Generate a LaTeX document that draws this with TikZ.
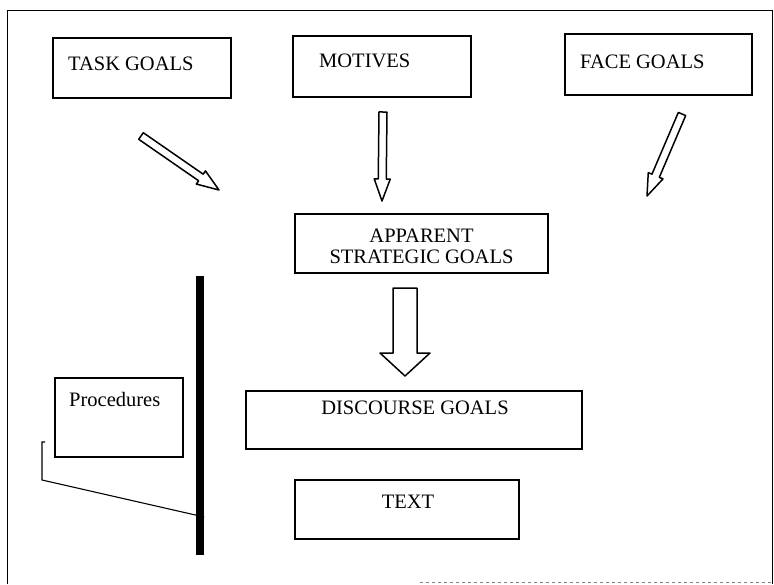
\documentclass[tikz,border=0pt]{standalone}
\usepackage{fontspec}
\setmainfont{Liberation Serif}
\usetikzlibrary{calc}
\def\goalbox{\node[draw,line width=1.2pt,inner sep=0pt]}
\def\goaltext{\node[inner sep=0pt,font=\fontsize{20.5}{23}\selectfont]}
\def\hollowarrow#1#2#3#4#5{%
  \coordinate (hb) at ($(#2)!#5!(#1)$);
  \draw[line width=1.5pt,line join=round]
    ($(#1)!#3!90:(#2)$) -- ($(hb)!#3!90:(#2)$) -- ($(hb)!#4!90:(#2)$) -- (#2)
    -- ($(hb)!#4!-90:(#2)$) -- ($(hb)!#3!-90:(#2)$) -- ($(#1)!#3!-90:(#2)$) -- cycle;}

\begin{document}
\begin{tikzpicture}[x=1pt,y=-1pt]
\useasboundingbox (0,0) rectangle (774,584);
\draw[line width=0.9pt] (7,584) -- (7,10) -- (772,10) -- (772,584);
\draw[gray,dashed,line width=0.6pt] (420,582) -- (772,582);
\goalbox[minimum width=178,minimum height=60] (task) at (142,68) {};
\goalbox[minimum width=178,minimum height=61] (motives) at (382,66.5) {};
\goalbox[minimum width=187,minimum height=61] (face) at (658.5,64.5) {};
\goalbox[minimum width=253,minimum height=59] (apparent) at (421.5,243.5) {};
\goalbox[minimum width=128,minimum height=79] (proc) at (119,417.5) {};
\goalbox[minimum width=336,minimum height=58] (discourse) at (414,420) {};
\goalbox[minimum width=224,minimum height=59] (text) at (407,509.5) {};
\goaltext[anchor=base west] (tasklbl) at (68,70) {TASK GOALS};
\goaltext[anchor=base west] (motiveslbl) at (319,67) {MOTIVES};
\goaltext[anchor=base west] (facelbl) at (580,68) {FACE GOALS};
\goaltext[anchor=base] (apparentlbl) at (421.5,242) {APPARENT};
\goaltext[anchor=base] (strategiclbl) at (421.5,263) {STRATEGIC GOALS};
\goaltext[anchor=base west] (proclbl) at (69,406) {Procedures};
\goaltext[anchor=base] (discourselbl) at (415,414) {DISCOURSE GOALS};
\goaltext[anchor=base] (textlbl) at (408,508) {TEXT};
\node[fill,minimum width=8,minimum height=279,inner sep=0pt] (bar) at (200,415.5) {};
\coordinate (taskA) at (141,136);
\coordinate (taskB) at (219,190);
\coordinate (motA) at (383,112);
\coordinate (motB) at (382,201);
\coordinate (faceA) at (682,114);
\coordinate (faceB) at (647,196);
\coordinate (bigA) at (405,288);
\coordinate (bigB) at (405,376);
\hollowarrow{taskA}{taskB}{4pt}{8pt}{22pt}
\hollowarrow{motA}{motB}{4pt}{8pt}{22pt}
\hollowarrow{faceA}{faceB}{4pt}{8pt}{22pt}
\hollowarrow{bigA}{bigB}{12pt}{25pt}{23pt}
\coordinate (brk) at (42,442);
\coordinate (barhit) at (bar.east |- 0,517);
\draw[line width=1.1pt] ($(brk)+(3,0)$) -- (brk) -- (42,480) -- (barhit);
\end{tikzpicture}
\end{document}
